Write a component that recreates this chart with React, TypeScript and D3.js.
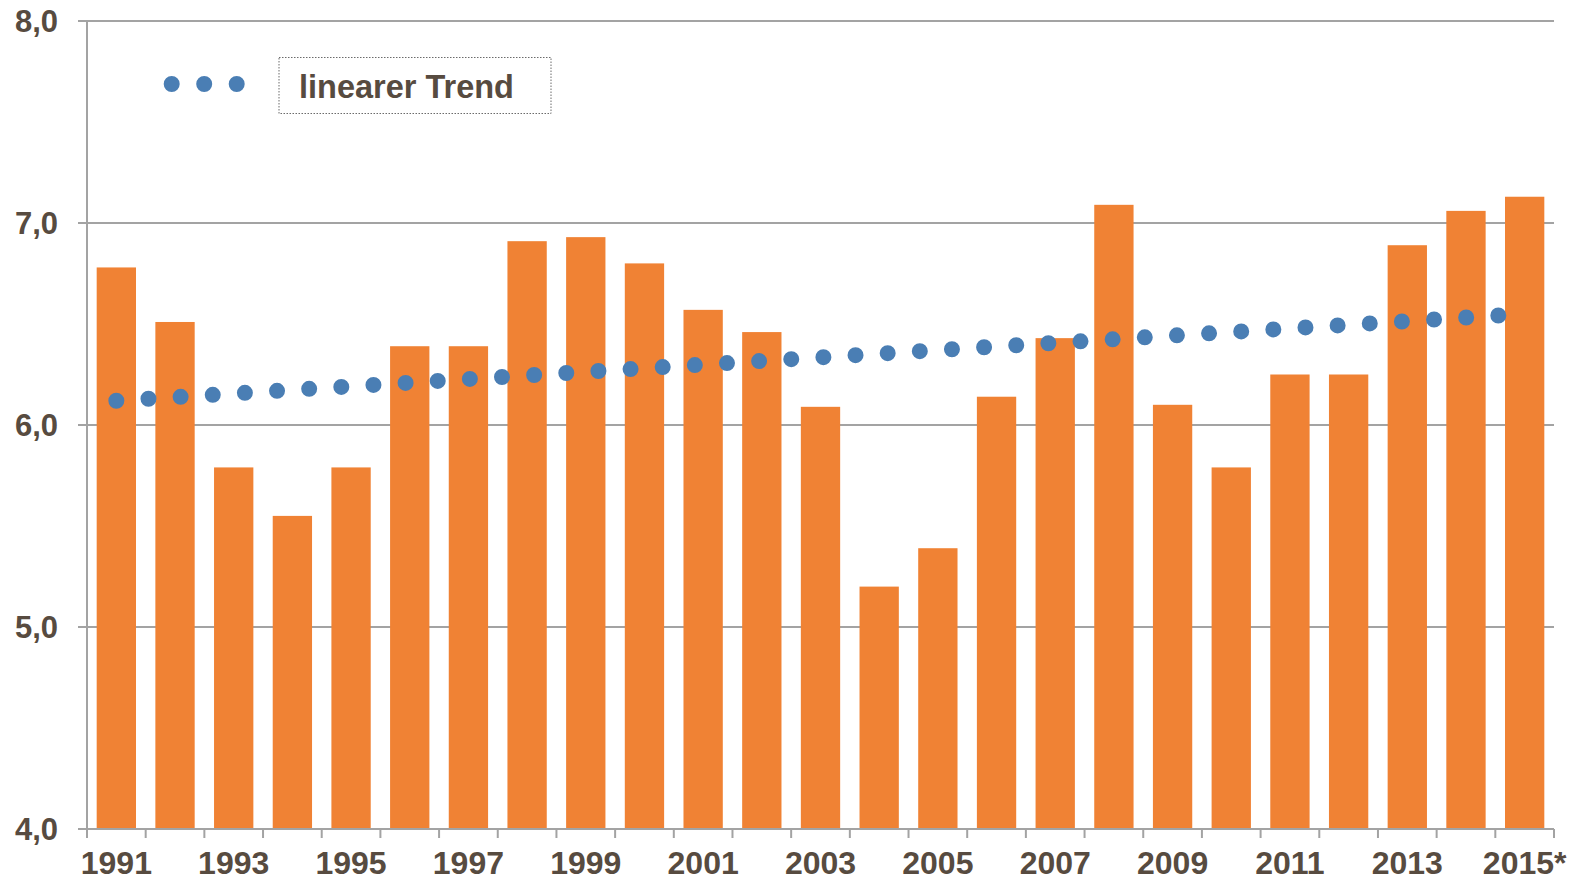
import React from "react";
import * as d3 from "d3";

// years and values
const years = [
  "1991", "1992", "1993", "1994", "1995", "1996", "1997", "1998", "1999",
  "2000", "2001", "2002", "2003", "2004", "2005", "2006", "2007", "2008",
  "2009", "2010", "2011", "2012", "2013", "2014", "2015",
];
const values = [
  6.78, 6.51, 5.79, 5.55, 5.79, 6.39, 6.39, 6.91, 6.93, 6.8, 6.57, 6.46,
  6.09, 5.2, 5.39, 6.14, 6.43, 7.09, 6.1, 5.79, 6.25, 6.25, 6.89, 7.06, 7.13,
];
const yearLabels = [
  "1991", "1993", "1995", "1997", "1999", "2001", "2003", "2005", "2007",
  "2009", "2011", "2013", "2015*",
];
// trend line: first year, last year
const trendValues = [6.12, 6.55];
const yTicks = [4, 5, 6, 7, 8];
const legendLabel = "linearer Trend";

const W = 1579;
const H = 882;
const left = 87;
const right = 1554;
const top = 21;
const bottom = 829;

const textColor = "#574b40";
const gridColor = "#a3a3a3";
const barColor = "#f08234";
const dotColor = "#4a7eb4";
const font = "'Liberation Sans', Arial, sans-serif";

export default function App() {
  const x = d3.scaleBand<string>().domain(years).range([left, right]).paddingInner(0.33).paddingOuter(0.165);
  const y = d3.scaleLinear().domain([4, 8]).range([bottom, top]);
  const band = (right - left) / years.length;

  // trend line from center of first bar to center of last bar
  const trendLine = d3.line<[number, number]>()([
    [x(years[0])! + x.bandwidth() / 2, y(trendValues[0])],
    [x(years[years.length - 1])! + x.bandwidth() / 2, y(trendValues[1])],
  ]);

  const fmt = (v: number) => d3.format(".1f")(v).replace(".", ",");

  return (
    <svg
      width={W}
      height={H}
      style={{ position: "absolute", left: 0, top: 0, background: "#fff" }}
      fontFamily={font}
    >
      {/* grid */}
      {yTicks.map((t) => (
        <line key={t} x1={78} x2={right} y1={y(t)} y2={y(t)} stroke={gridColor} strokeWidth={2} />
      ))}
      <line x1={left} x2={left} y1={top} y2={bottom + 9} stroke={gridColor} strokeWidth={2} />
      {d3.range(years.length + 1).map((i) => (
        <line
          key={i}
          x1={left + i * band}
          x2={left + i * band}
          y1={bottom}
          y2={bottom + 9}
          stroke={gridColor}
          strokeWidth={2}
        />
      ))}

      {/* bars */}
      {years.map((yr, i) => (
        <rect
          key={yr}
          x={x(yr)}
          y={y(values[i])}
          width={x.bandwidth()}
          height={y(4) - y(values[i]) - 1}
          fill={barColor}
        />
      ))}

      {/* trend */}
      <path
        d={trendLine!}
        stroke={dotColor}
        strokeWidth={16}
        strokeLinecap="round"
        strokeDasharray="0 32.2"
        fill="none"
      />

      {/* y labels */}
      {yTicks.map((t) => (
        <text
          key={t}
          x={58}
          y={y(t) + 11}
          textAnchor="end"
          fontSize={31}
          fontWeight="bold"
          fill={textColor}
        >
          {fmt(t)}
        </text>
      ))}

      {/* x labels */}
      {yearLabels.map((lbl) => {
        const yr = lbl.replace("*", "");
        return (
          <text
            key={lbl}
            x={x(yr)! + x.bandwidth() / 2}
            y={874}
            textAnchor="middle"
            fontSize={32}
            fontWeight="bold"
            fill={textColor}
          >
            {lbl}
          </text>
        );
      })}

      {/* legend */}
      <path
        d="M171.7,84H237"
        stroke={dotColor}
        strokeWidth={16}
        strokeLinecap="round"
        strokeDasharray="0 32.5"
        fill="none"
      />
      <rect
        x={279}
        y={57.5}
        width={272}
        height={56}
        fill="none"
        stroke="#6b6b6b"
        strokeWidth={1}
        strokeDasharray="1.5 1.5"
      />
      <text x={299} y={98} fontSize={32.5} fontWeight="bold" fill={textColor}>
        {legendLabel}
      </text>
    </svg>
  );
}
